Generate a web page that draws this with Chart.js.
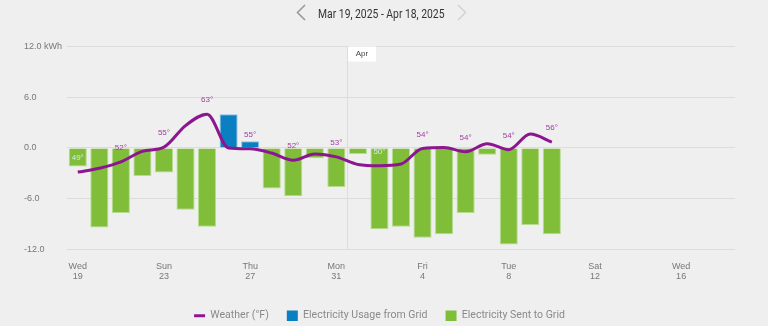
<!DOCTYPE html>
<html>
<head>
<meta charset="utf-8">
<script src="https://cdn.jsdelivr.net/npm/chart.js@4.4.1/dist/chart.umd.min.js"></script>
<style>
html,body{margin:0;padding:0;background:#efefef;}
#wrap{position:relative;width:768px;height:326px;overflow:hidden;background:#efefef;}
#c{position:absolute;left:0;top:0;}
#titlebox{position:absolute;left:0;width:762px;top:5px;text-align:center;line-height:15px;}
#title{display:inline-block;white-space:nowrap;font-size:12px;color:#333;transform-origin:50% 50%;}
#nav{position:absolute;left:0;top:0;}
</style>
</head>
<body>
<div id="wrap">
<canvas id="c" width="768" height="331"></canvas>
<svg id="nav" width="768" height="28">
<polyline points="305,5 297.5,12.5 305,20" fill="none" stroke="#9a9a9a" stroke-width="1.6"/>
<polyline points="458,5 465.5,12.5 458,20" fill="none" stroke="#d4d4d4" stroke-width="1.6"/>
</svg>
<div id="titlebox"><span id="title">Mar 19, 2025 - Apr 18, 2025</span></div>
</div>
<script>
// ---- data ----
const categories = ["Mar 19","Mar 20","Mar 21","Mar 22","Mar 23","Mar 24","Mar 25","Mar 26","Mar 27","Mar 28","Mar 29","Mar 30","Mar 31",
  "Apr 1","Apr 2","Apr 3","Apr 4","Apr 5","Apr 6","Apr 7","Apr 8","Apr 9","Apr 10","Apr 11","Apr 12","Apr 13","Apr 14","Apr 15","Apr 16","Apr 17","Apr 18"];
const xTickLabels = [["Wed","19"],"","","",["Sun","23"],"","","",["Thu","27"],"","","",["Mon","31"],"","","",
  ["Fri","4"],"","","",["Tue","8"],"","","",["Sat","12"],"","","",["Wed","16"],"",""];
const usageFromGrid = [null,null,null,null,null,null,null,4.0,0.8,null,null,null,null,
  null,null,null,null,null,null,null,null,null,null,null,null,null,null,null,null,null,null];
const sentToGrid = [-2.2,-9.4,-7.7,-3.3,-2.9,-7.3,-9.3,null,null,-4.8,-5.7,-1.2,-4.6,
  -0.7,-9.6,-9.3,-10.6,-10.2,-7.7,-0.8,-11.4,-9.1,-10.2,null,null,null,null,null,null,null,null];
const weatherF = [49.3,50.2,51.7,54.2,55.2,60.3,63.0,55.0,54.8,53.8,52.1,53.6,52.9,
  51.1,50.8,51.2,54.9,55.1,54.1,56.0,54.6,58.3,56.4,null,null,null,null,null,null,null,null];
const weatherLabels = [49,null,52,null,55,null,63,null,55,null,52,null,53,
  null,50,null,54,null,54,null,54,null,56,null,null,null,null,null,null,null,null];
const yTickValues = [-12,-6,0,6,12];
const monthStart = "Apr 1";
const monthLabel = "Apr";

// ---- pick the most condensed installed sans for legend/title ----
const fontCandidates = [
  {w: undefined, fam: '"Liberation Sans Narrow"'},
  {w: 'condensed', fam: '"DejaVu Sans"'},
  {w: undefined, fam: '"DejaVu Sans Condensed"'},
  {w: 'condensed', fam: '"Liberation Sans"'},
  {w: undefined, fam: 'Roboto'},
  {w: undefined, fam: '"Liberation Sans"'}
];
const mctx = document.createElement('canvas').getContext('2d');
const refText = 'Electricity Usage from Grid';
let pick = fontCandidates[fontCandidates.length - 1], pickW = Infinity;
fontCandidates.forEach(f => {
  mctx.font = '12px serif';
  mctx.font = (f.w ? f.w + ' ' : '') + '12px ' + f.fam + ', sans-serif';
  const w = mctx.measureText(refText).width;
  if (w < pickW - 0.5) { pickW = w; pick = f; }
});
const legendSize = Math.min(12.5, 12 * 124.7 / pickW);

// title styling (scale to reference width, keep height)
const tEl = document.getElementById('title');
tEl.style.fontFamily = pick.fam + ', sans-serif';
tEl.style.fontStretch = pick.w === 'condensed' ? 'condensed' : 'normal';
const tW = tEl.getBoundingClientRect().width;
tEl.style.transform = 'scaleX(' + (126.4 / tW) + ')';

// ---- overlay plugin (month marker + temperature labels) ----
const overlay = {
  id: 'overlay',
  beforeDatasetsDraw(chart) {
    const {ctx, chartArea: a, scales: {x}} = chart;
    const i = categories.indexOf(monthStart);
    const px = Math.round((x.getPixelForValue(i - 1) + x.getPixelForValue(i)) / 2) + 0.5;
    ctx.save();
    ctx.strokeStyle = '#dcdcdc'; ctx.lineWidth = 1;
    ctx.beginPath(); ctx.moveTo(px, a.top); ctx.lineTo(px, a.bottom); ctx.stroke();
    ctx.restore();
  },
  afterDatasetsDraw(chart) {
    const {ctx, chartArea: a, scales: {x, y, y1}} = chart;
    ctx.save();
    ctx.font = '8px "Liberation Sans", Arial, sans-serif';
    ctx.textAlign = 'center'; ctx.textBaseline = 'middle';
    const zero = y.getPixelForValue(0);
    weatherLabels.forEach((t, i) => {
      if (t === null) return;
      const px = x.getPixelForValue(i);
      const py = y1.getPixelForValue(weatherF[i]) - 14;
      ctx.fillStyle = py > zero + 2 ? '#d3e9ef' : '#a23aa3';
      ctx.fillText(t + '°', px, py);
    });
    const i = categories.indexOf(monthStart);
    const lx = Math.round((x.getPixelForValue(i - 1) + x.getPixelForValue(i)) / 2);
    ctx.fillStyle = '#ffffff';
    ctx.fillRect(lx + 1, a.top, 28, 15);
    ctx.fillStyle = '#444444';
    ctx.fillText(monthLabel, lx + 15, a.top + 7.5);
    ctx.restore();
  }
};

const tickFont = {family: '"Liberation Sans", Arial, sans-serif', size: 9, lineHeight: 1.2};

new Chart(document.getElementById('c'), {
  data: {
    labels: categories,
    datasets: [
      {type: 'line', label: 'Weather (°F)', data: weatherF, yAxisID: 'y1', order: 0,
       borderColor: '#8b168f', backgroundColor: '#8b168f', borderWidth: 3,
       pointRadius: 0, cubicInterpolationMode: 'monotone', spanGaps: false},
      {type: 'bar', label: 'Electricity Usage from Grid', data: usageFromGrid, yAxisID: 'y', order: 1,
       backgroundColor: '#0a7fc1', borderColor: '#8cc5e5', borderWidth: 1,
       barPercentage: 0.84, categoryPercentage: 1.0},
      {type: 'bar', label: 'Electricity Sent to Grid', data: sentToGrid, yAxisID: 'y', order: 2,
       backgroundColor: '#80be3a', borderColor: '#b5dc8e', borderWidth: 1,
       barPercentage: 0.84, categoryPercentage: 1.0}
    ]
  },
  options: {
    responsive: false,
    animation: false,
    devicePixelRatio: 1,
    layout: {padding: {left: 24, right: 33, top: 46.5, bottom: 0}},
    scales: {
      x: {
        stacked: true, offset: true,
        border: {display: false},
        grid: {display: false, drawTicks: false},
        afterFit(s) { s.height = 43; },
        ticks: {autoSkip: false, maxRotation: 0, padding: 12, color: '#777777',
                font: {family: tickFont.family, size: 9, lineHeight: 1.15},
                callback: (v, i) => xTickLabels[i]}
      },
      y: {
        stacked: true, min: -12, max: 12,
        border: {display: false},
        grid: {color: '#dcdcdc', drawTicks: false, lineWidth: 1},
        afterFit(s) { s.width = 43; },
        afterBuildTicks(s) { s.ticks = yTickValues.map(v => ({value: v})); },
        ticks: {crossAlign: 'far', padding: 0, color: '#777777', font: tickFont,
                callback: v => v === 12 ? '12.0 kWh' : v.toFixed(1)}
      },
      y1: {display: false, min: 31, max: 79}
    },
    plugins: {
      tooltip: {enabled: false},
      legend: {
        position: 'bottom',
        labels: {
          usePointStyle: true, pointStyleWidth: 11, boxHeight: 11, padding: 18,
          color: '#8a8a8a',
          font: {family: pick.fam + ', sans-serif', weight: pick.w, size: legendSize},
          generateLabels(chart) {
            const items = Chart.defaults.plugins.legend.labels.generateLabels(chart);
            items.forEach(it => {
              const ds = chart.data.datasets[it.datasetIndex];
              if (ds.type === 'line') {
                it.pointStyle = 'line'; it.lineWidth = 3; it.strokeStyle = ds.borderColor;
              } else {
                it.pointStyle = 'rect'; it.lineWidth = 0; it.fillStyle = ds.backgroundColor;
              }
            });
            return items;
          }
        }
      }
    }
  },
  plugins: [overlay]
});
</script>
</body>
</html>
